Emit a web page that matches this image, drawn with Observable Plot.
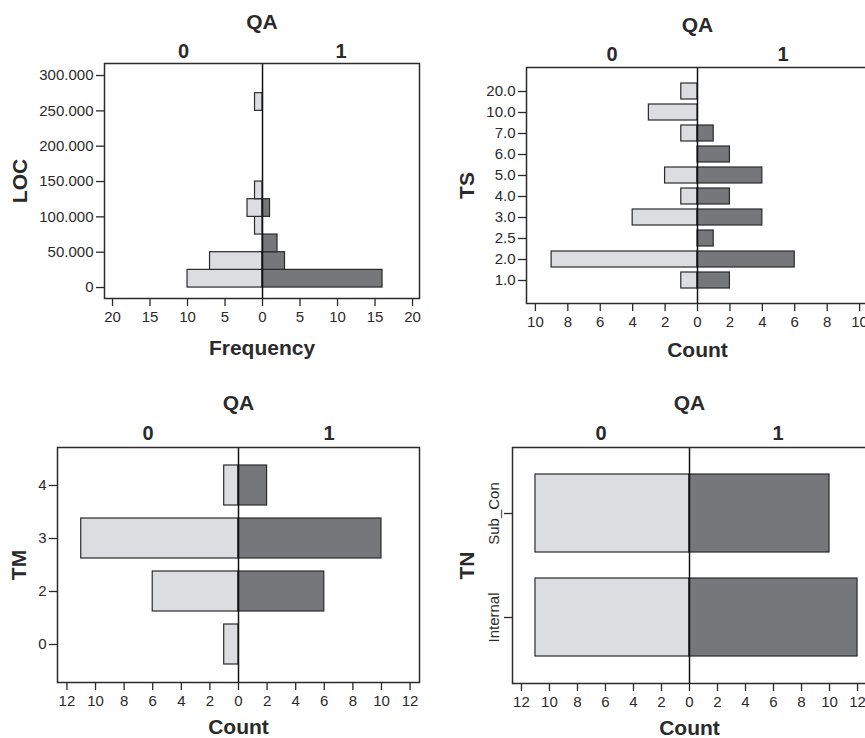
<!DOCTYPE html>
<html><head><meta charset="utf-8">
<script src="https://cdn.jsdelivr.net/npm/d3@7"></script>
<script src="https://cdn.jsdelivr.net/npm/@observablehq/plot@0.6"></script>
<style>
html,body{margin:0;padding:0;background:#fff;overflow:hidden;width:865px;height:738px;}
#root{position:relative;width:865px;height:738px;overflow:hidden;}
.panel{position:absolute;}
.panel svg{max-width:none !important;}
</style></head><body><div id="root"></div>
<script>
// ---------- data ----------
const qaGroups = ["0", "1"];

// Panel 1: LOC histogram (bins of 25,000)
const locBinStart = [0, 25000, 50000, 75000, 100000, 125000, 250000];
const locBinWidth = 25000;
const locQA0 = [10, 7, 0, 1, 2, 1, 1];
const locQA1 = [16, 3, 2, 0, 1, 0, 0];
const locTicks = [0, 50000, 100000, 150000, 200000, 250000, 300000];
const freqTicks = [-20, -15, -10, -5, 0, 5, 10, 15, 20];

// Panel 2: TS
const tsCats = ["20.0", "10.0", "7.0", "6.0", "5.0", "4.0", "3.0", "2.5", "2.0", "1.0"];
const tsQA0 = [1, 3, 1, 0, 2, 1, 4, 0, 9, 1];
const tsQA1 = [0, 0, 1, 2, 4, 2, 4, 1, 6, 2];
const tsTicks = [-10, -8, -6, -4, -2, 0, 2, 4, 6, 8, 10];

// Panel 3: TM
const tmCats = ["4", "3", "2", "0"];
const tmQA0 = [1, 11, 6, 1];
const tmQA1 = [2, 10, 6, 0];
const tmTicks = [-12, -10, -8, -6, -4, -2, 0, 2, 4, 6, 8, 10, 12];

// Panel 4: TN
const tnCats = ["Sub_Con", "Internal"];
const tnQA0 = [11, 11];
const tnQA1 = [10, 12];
const tnTicks = [-12, -10, -8, -6, -4, -2, 0, 2, 4, 6, 8, 10, 12];

// ---------- style ----------
const LIGHT = "#dcdde0", DARK = "#76777b", EDGE = "#2b2b2b";
const FONT = "'Liberation Sans', Arial, Helvetica, sans-serif";
const TICK_FS = 15;
const baseStyle = {fontFamily: FONT, fontSize: "15px", color: "#2a2a2a", background: "white", overflow: "visible"};

function common({xTicks, xTitle, yTitle, yTitleDx, halfCenters, qaDy, grpDy, titleDy}) {
  return [
    Plot.ruleX([0], {stroke: "#111", strokeWidth: 1.5}),
    Plot.frame({stroke: EDGE, strokeWidth: 1.5}),
    Plot.axisX({anchor: "bottom", ticks: xTicks, tickFormat: d => String(Math.abs(d)), tickSize: 8, tickPadding: 5, label: null, fontSize: TICK_FS, strokeWidth: 1.3}),
    Plot.text(["QA"], {frameAnchor: "top", dy: qaDy, lineAnchor: "middle", fontWeight: "bold", fontSize: 21}),
    Plot.text(qaGroups, {x: (d, i) => halfCenters[i], frameAnchor: "top", dy: grpDy, lineAnchor: "middle", fontWeight: "bold", fontSize: 20}),
    Plot.text([xTitle], {frameAnchor: "bottom", dy: titleDy, lineAnchor: "middle", fontWeight: "bold", fontSize: 21}),
    Plot.text([yTitle], {frameAnchor: "left", dx: yTitleDx, rotate: -90, textAnchor: "middle", lineAnchor: "middle", fontWeight: "bold", fontSize: 21})
  ];
}

function place(svg, left, top) {
  const div = document.createElement("div");
  div.className = "panel";
  div.style.left = left + "px";
  div.style.top = top + "px";
  div.appendChild(svg);
  document.getElementById("root").appendChild(div);
}

const barStyle0 = {fill: LIGHT, stroke: EDGE, strokeWidth: 1.2};
const barStyle1 = {fill: DARK, stroke: EDGE, strokeWidth: 1.2};

// ---------- Panel 1 ----------
const locData = locBinStart.map((lo, i) => ({lo, hi: lo + locBinWidth, q0: locQA0[i], q1: locQA1[i]}));
const p1xDomain = [-21.07, 20.93];
place(Plot.plot({
  width: 430, height: 370, marginTop: 63, marginRight: 11, marginBottom: 72, marginLeft: 104,
  style: baseStyle,
  x: {domain: p1xDomain},
  y: {domain: [-15500, 317000]},
  marks: [
    Plot.rect(locData.filter(d => d.q0 > 0), {x1: d => -d.q0, x2: 0, y1: "lo", y2: "hi", ...barStyle0}),
    Plot.rect(locData.filter(d => d.q1 > 0), {x1: 0, x2: d => d.q1, y1: "lo", y2: "hi", ...barStyle1}),
    Plot.axisY({ticks: locTicks, tickFormat: d => d3.format(",")(d).replace(/,/g, "."), tickSize: 8, tickPadding: 3, label: null, fontSize: TICK_FS, strokeWidth: 1.3}),
    ...common({xTicks: freqTicks, xTitle: "Frequency", yTitle: "LOC", yTitleDx: -84,
      halfCenters: [p1xDomain[0] / 2, p1xDomain[1] / 2], qaDy: -41, grpDy: -12, titleDy: 50})
  ]
}), 0, 0);

// ---------- Panel 2 ----------
const tsData = tsCats.map((c, i) => ({cat: c, q0: tsQA0[i], q1: tsQA1[i]}));
const p2x = 10.55;
place(Plot.plot({
  width: 445, height: 370, marginTop: 67, marginRight: 7, marginBottom: 67, marginLeft: 96,
  style: baseStyle,
  x: {domain: [-p2x, p2x]},
  y: {type: "band", domain: tsCats, paddingInner: 0.25, paddingOuter: 0.69},
  marks: [
    Plot.barX(tsData.filter(d => d.q0 > 0), {x1: d => -d.q0, x2: 0, y: "cat", ...barStyle0}),
    Plot.barX(tsData.filter(d => d.q1 > 0), {x1: 0, x2: d => d.q1, y: "cat", ...barStyle1}),
    Plot.axisY({tickSize: 8, tickPadding: 3, label: null, fontSize: TICK_FS, strokeWidth: 1.3}),
    ...common({xTicks: tsTicks, xTitle: "Count", yTitle: "TS", yTitleDx: -59,
      halfCenters: [-p2x / 2, p2x / 2], qaDy: -42, grpDy: -13, titleDy: 47})
  ]
}), 430, 0);

// ---------- Panel 3 ----------
const tmData = tmCats.map((c, i) => ({cat: c, q0: tmQA0[i], q1: tmQA1[i]}));
const p3x = 12.66;
place(Plot.plot({
  width: 430, height: 358, marginTop: 67, marginRight: 11, marginBottom: 56, marginLeft: 57,
  style: baseStyle,
  x: {domain: [-p3x, p3x]},
  y: {type: "band", domain: tmCats, paddingInner: 0.25, paddingOuter: 0.34},
  marks: [
    Plot.barX(tmData.filter(d => d.q0 > 0), {x1: d => -d.q0, x2: 0, y: "cat", ...barStyle0}),
    Plot.barX(tmData.filter(d => d.q1 > 0), {x1: 0, x2: d => d.q1, y: "cat", ...barStyle1}),
    Plot.axisY({tickSize: 8, tickPadding: 3, label: null, fontSize: TICK_FS, strokeWidth: 1.3}),
    ...common({xTicks: tmTicks, xTitle: "Count", yTitle: "TM", yTitleDx: -38,
      halfCenters: [-p3x / 2, p3x / 2], qaDy: -44, grpDy: -14, titleDy: 45})
  ]
}), 0, 380);

// ---------- Panel 4 ----------
const tnData = tnCats.map((c, i) => ({cat: c, q0: tnQA0[i], q1: tnQA1[i]}));
const p4x = 12.64;
place(Plot.plot({
  width: 440, height: 358, marginTop: 67, marginRight: 4, marginBottom: 55, marginLeft: 82,
  style: baseStyle,
  x: {domain: [-p4x, p4x]},
  y: {type: "band", domain: tnCats, paddingInner: 0.25, paddingOuter: 0.25},
  marks: [
    Plot.barX(tnData.filter(d => d.q0 > 0), {x1: d => -d.q0, x2: 0, y: "cat", ...barStyle0}),
    Plot.barX(tnData.filter(d => d.q1 > 0), {x1: 0, x2: d => d.q1, y: "cat", ...barStyle1}),
    Plot.axisY({tickSize: 8, tickPadding: 6, tickRotate: -90, label: null, fontSize: TICK_FS, strokeWidth: 1.3}),
    ...common({xTicks: tnTicks, xTitle: "Count", yTitle: "TN", yTitleDx: -45,
      halfCenters: [-p4x / 2, p4x / 2], qaDy: -44, grpDy: -14, titleDy: 45})
  ]
}), 430, 380);
</script>
</body></html>
